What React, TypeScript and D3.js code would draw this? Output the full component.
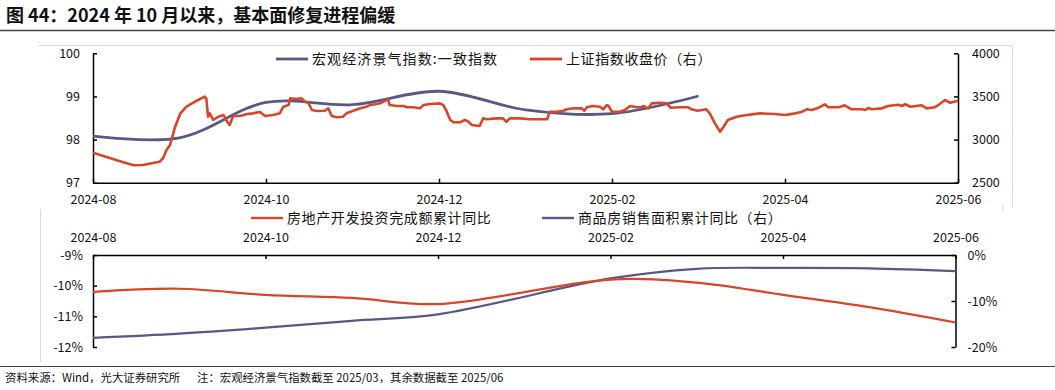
import { useEffect, useRef } from 'react';
import * as d3 from 'd3';

// x positions are months counted from 2024-08 (axis is evenly spaced by month)
const monthLabels = ['2024-08', '2024-10', '2024-12', '2025-02', '2025-04', '2025-06'];
const labelMonths = [0, 2, 4, 6, 8, 10];

// 宏观经济景气指数:一致指数 (monthly, to 2025/03)
const macroMonth = [0, 1, 2, 3, 4, 5, 6, 7];
const macroIndex = [98.08, 98.04, 98.86, 98.81, 99.12, 98.69, 98.6, 99.01];

// 上证指数收盘价
const shT = [
  0, 0.12, 0.24, 0.35, 0.47, 0.58, 0.68, 0.77, 0.81, 0.85, 0.89, 0.95, 1.01, 1.08, 1.2, 1.29, 1.31, 1.33,
  1.35, 1.39, 1.45, 1.51, 1.55, 1.58, 1.62, 1.7, 1.78, 1.85, 1.93, 1.99, 2.08, 2.16, 2.2, 2.26, 2.28, 2.35,
  2.41, 2.45, 2.49, 2.53, 2.59, 2.68, 2.72, 2.76, 2.82, 2.89, 2.93, 3.01, 3.09, 3.16, 3.2, 3.26, 3.32, 3.41,
  3.43, 3.51, 3.59, 3.63, 3.7, 3.78, 3.82, 3.9, 4.01, 4.05, 4.09, 4.13, 4.17, 4.24, 4.3, 4.34, 4.38, 4.47,
  4.51, 4.55, 4.67, 4.74, 4.78, 4.82, 4.94, 5.05, 5.25, 5.28, 5.36, 5.44, 5.48, 5.55, 5.65, 5.68, 5.71, 5.78,
  5.86, 5.9, 5.94, 5.96, 6.0, 6.09, 6.15, 6.21, 6.29, 6.34, 6.36, 6.42, 6.46, 6.55, 6.63, 6.68, 6.79, 6.88,
  6.92, 6.99, 7.09, 7.13, 7.19, 7.25, 7.29, 7.34, 7.44, 7.56, 7.71, 7.88, 8.0, 8.12, 8.19, 8.25, 8.31, 8.39,
  8.46, 8.5, 8.62, 8.69, 8.77, 8.89, 8.93, 8.96, 9.0, 9.12, 9.19, 9.31, 9.35, 9.39, 9.45, 9.58, 9.64, 9.73,
  9.79, 9.85, 9.91, 10.0
];
const shClose = [
  2848, 2809, 2771, 2736, 2702, 2705, 2725, 2743, 2783, 2879, 2937, 3149, 3304, 3381, 3450, 3497, 3478, 3265,
  3304, 3227, 3265, 3285, 3207, 3169, 3273, 3273, 3296, 3304, 3320, 3273, 3285, 3304, 3381, 3400, 3478, 3470,
  3478, 3439, 3427, 3343, 3331, 3334, 3362, 3273, 3258, 3265, 3304, 3334, 3362, 3381, 3400, 3409, 3420, 3467,
  3400, 3389, 3389, 3374, 3374, 3362, 3400, 3412, 3420, 3400, 3323, 3227, 3200, 3200, 3227, 3207, 3169, 3157,
  3246, 3235, 3246, 3246, 3207, 3246, 3246, 3235, 3235, 3323, 3323, 3334, 3351, 3362, 3362, 3334, 3374, 3389,
  3381, 3351, 3400, 3389, 3323, 3323, 3343, 3389, 3374, 3374, 3389, 3362, 3420, 3427, 3420, 3369, 3374, 3374,
  3351, 3334, 3351, 3304, 3188, 3091, 3149, 3227, 3265, 3285, 3304, 3296, 3285, 3304, 3319, 3351, 3343, 3369,
  3409, 3374, 3374, 3397, 3351, 3351, 3343, 3366, 3351, 3362, 3389, 3404, 3389, 3409, 3381, 3397, 3362, 3374,
  3412, 3458, 3427, 3450
];

// 房地产 (cumulative y/y, %, no separate January)
const reMonth = [0, 1, 2, 3, 4, 6, 7, 8, 9, 10];
const reInvest = [-10.2, -10.1, -10.3, -10.4, -10.6, -9.8, -9.9, -10.3, -10.7, -11.2];
const reSales = [-18.0, -17.1, -15.8, -14.3, -12.9, -5.1, -3.0, -2.8, -2.9, -3.5];

const topLeftTicks = [97, 98, 99, 100];
const topRightTicks = [2500, 3000, 3500, 4000];
const botLeftTicks = [-12, -11, -10, -9];
const botRightTicks = [-20, -10, 0];

const RED = '#d6462b';
const PURPLE = '#585884';
const FONT = '"Noto Sans CJK SC", "Noto Sans", sans-serif';

export default function App() {
  const ref = useRef<SVGSVGElement>(null);

  useEffect(() => {
    const svg = d3.select(ref.current);
    svg.selectAll('*').remove();

    // title + rules
    svg.append('text').attr('x', 6).attr('y', 22).attr('font-size', 18).attr('font-weight', 'bold')
      .attr('fill', '#111').text('图 44：2024 年 10 月以来，基本面修复进程偏缓');
    svg.append('line').attr('x1', 0).attr('x2', 1055).attr('y1', 30.5).attr('y2', 30.5)
      .attr('stroke', '#444').attr('stroke-width', 1.5);
    svg.append('line').attr('x1', 0).attr('x2', 1055).attr('y1', 366.5).attr('y2', 366.5)
      .attr('stroke', '#444').attr('stroke-width', 1.2);
    svg.append('text').attr('x', 5).attr('y', 382).attr('font-size', 11.4).attr('fill', '#111')
      .text('资料来源：Wind，光大证券研究所');
    svg.append('text').attr('x', 197).attr('y', 382).attr('font-size', 11.4).attr('fill', '#111')
      .text('注：宏观经济景气指数截至 2025/03，其余数据截至 2025/06');

    // embedded chart frames
    const frame = svg.append('g').attr('stroke', '#d9d9d9').attr('fill', 'none');
    frame.append('path').attr('d', 'M38,45.5H1012.5V208');
    frame.append('path').attr('d', 'M40.5,209V362');
    frame.append('path').attr('d', 'M1002.5,205V211');

    // ---------- top chart ----------
    const x1 = d3.scaleLinear().domain([0, 10]).range([93, 958]);
    const yL = d3.scaleLinear().domain([97, 100]).range([182.7, 53.3]);
    const yR = d3.scaleLinear().domain([2500, 4000]).range([182.7, 53.3]);

    const styleAxis = (g: any) => {
      g.attr('font-family', FONT).attr('font-size', 12.5);
      g.selectAll('path, line').attr('stroke', '#000').attr('stroke-width', 1.5);
      g.selectAll('text').attr('fill', '#111');
    };

    svg.append('g').attr('transform', 'translate(0,182.7)')
      .call(d3.axisBottom(x1).tickValues(labelMonths).tickFormat((d: any, i: number) => monthLabels[i])
        .tickSizeInner(-4).tickSizeOuter(0).tickPadding(12))
      .call(styleAxis);
    svg.append('g').attr('transform', 'translate(93,0)')
      .call(d3.axisLeft(yL).tickValues(topLeftTicks).tickFormat(d3.format('d')).tickSizeInner(-4).tickSizeOuter(0).tickPadding(13))
      .call(styleAxis);
    svg.append('g').attr('transform', 'translate(958,0)')
      .call(d3.axisRight(yR).tickValues(topRightTicks).tickFormat(d3.format('d')).tickSizeInner(-4).tickSizeOuter(0).tickPadding(14))
      .call(styleAxis);

    const macroLine = d3.line<number>().x((d, i) => x1(macroMonth[i])).y((d) => yL(d)).curve(d3.curveCatmullRom.alpha(0.5));
    svg.append('path').attr('d', macroLine(macroIndex)).attr('fill', 'none').attr('stroke', PURPLE).attr('stroke-width', 2.8);

    const shLine = d3.line<number>().x((d, i) => x1(shT[i])).y((d) => yR(d));
    svg.append('path').attr('d', shLine(shClose)).attr('fill', 'none').attr('stroke', RED)
      .attr('stroke-width', 2.6).attr('stroke-linejoin', 'round');

    const legend = (x: number, y: number, color: string, label: string, w = 2.8, ls = 0.8) => {
      svg.append('line').attr('x1', x).attr('x2', x + 32).attr('y1', y).attr('y2', y).attr('stroke', color).attr('stroke-width', w);
      svg.append('text').attr('x', x + 36).attr('y', y + 5).attr('font-size', 14).attr('letter-spacing', ls)
        .attr('fill', '#111').text(label);
    };
    legend(276, 59, PURPLE, '宏观经济景气指数:一致指数', 2.8, 1.1);
    legend(530, 59, RED, '上证指数收盘价（右）', 2.8, 0.6);

    // ---------- bottom chart ----------
    const x2 = d3.scaleLinear().domain([0, 10]).range([93, 955.5]);
    const yL2 = d3.scaleLinear().domain([-12, -9]).range([347, 255]);
    const yR2 = d3.scaleLinear().domain([-20, 0]).range([347, 255]);
    const pct = (d: any) => `${d}%`;

    svg.append('g').attr('transform', 'translate(0,255)')
      .call(d3.axisTop(x2).tickValues(labelMonths).tickFormat((d: any, i: number) => monthLabels[i])
        .tickSizeInner(-4).tickSizeOuter(0).tickPadding(13))
      .call(styleAxis);
    svg.append('g').attr('transform', 'translate(93,0)')
      .call(d3.axisLeft(yL2).tickValues(botLeftTicks).tickFormat(pct).tickSizeInner(-4).tickSizeOuter(0).tickPadding(10))
      .call(styleAxis);
    svg.append('g').attr('transform', 'translate(955.5,0)')
      .call(d3.axisRight(yR2).tickValues(botRightTicks).tickFormat(pct).tickSizeInner(-4).tickSizeOuter(0).tickPadding(12))
      .call(styleAxis);

    const invLine = d3.line<number>().x((d, i) => x2(reMonth[i])).y((d) => yL2(d)).curve(d3.curveCatmullRom.alpha(0.5));
    const salesLine = d3.line<number>().x((d, i) => x2(reMonth[i])).y((d) => yR2(d)).curve(d3.curveCatmullRom.alpha(0.5));
    svg.append('path').attr('d', salesLine(reSales)).attr('fill', 'none').attr('stroke', PURPLE).attr('stroke-width', 2.2);
    svg.append('path').attr('d', invLine(reInvest)).attr('fill', 'none').attr('stroke', RED).attr('stroke-width', 2.2);

    legend(251, 218, RED, '房地产开发投资完成额累计同比', 2.4, 0.6);
    legend(542, 218, PURPLE, '商品房销售面积累计同比（右）', 2.4, 0.6);
  }, []);

  return (
    <svg
      ref={ref}
      width={1055}
      height={390}
      style={{ position: 'absolute', left: 0, top: 0, background: '#fff', fontFamily: FONT }}
    />
  );
}
